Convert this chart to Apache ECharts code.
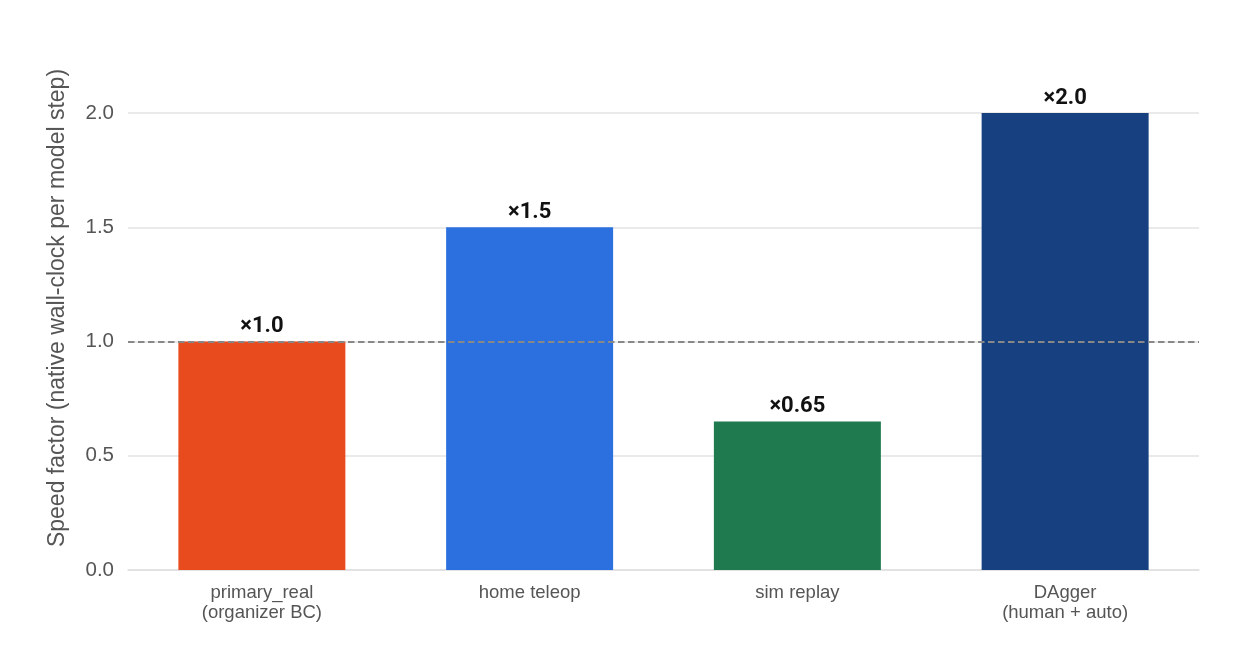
<!DOCTYPE html>
<html>
<head>
<meta charset="utf-8">
<script src="https://cdn.jsdelivr.net/npm/echarts@6/dist/echarts.min.js"></script>
<style>html,body{margin:0;padding:0;background:#fff}#c{width:1243px;height:666px}</style>
</head>
<body>
<div id="c"></div>
<script>
var categories = ['primary_real\n(organizer BC)', 'home teleop', 'sim replay', 'DAgger\n(human + auto)'];
var speedFactors = [1.0, 1.5, 0.65, 2.0];
var valueLabels = ['×1.0', '×1.5', '×0.65', '×2.0'];
var barColors = ['#E84C1E', '#2B70DE', '#1F7A4F', '#16407F'];
var yTicks = [0, 0.5, 1.0, 1.5, 2.0];
var referenceLine = 1.0;

var chart = echarts.init(document.getElementById('c'));
chart.setOption({
  backgroundColor: '#fff',
  animation: false,
  grid: { left: 128, right: 44, top: 113, bottom: 96 },
  xAxis: {
    type: 'category',
    data: categories,
    axisLine: { show: true, lineStyle: { color: '#e0e0e0', width: 1.5 } },
    axisTick: { show: false },
    axisLabel: { color: '#555', fontSize: 18.5, lineHeight: 20, margin: 13, fontFamily: 'Liberation Sans, Arial, sans-serif' }
  },
  yAxis: {
    type: 'value',
    min: yTicks[0],
    max: yTicks[yTicks.length - 1],
    interval: 0.5,
    name: 'Speed factor (native wall-clock per model step)',
    nameLocation: 'middle',
    nameGap: 59,
    nameTextStyle: { color: '#555', fontSize: 23, fontFamily: 'Liberation Sans, Arial, sans-serif', padding: [0, 0, 0, 67] },
    axisLine: { show: false },
    axisTick: { show: false },
    axisLabel: { color: '#555', fontSize: 20.5, margin: 14, fontFamily: 'Liberation Sans, Arial, sans-serif',
      formatter: function (v) { return v.toFixed(1); } },
    splitLine: { lineStyle: { color: '#e3e3e3', width: 1.5 } }
  },
  series: [{
    type: 'bar',
    barWidth: 167,
    data: speedFactors.map(function (v, i) {
      return { value: v, itemStyle: { color: barColors[i] } };
    }),
    label: {
      show: true,
      position: 'top',
      distance: 4,
      color: '#111',
      fontSize: 22,
      fontWeight: 'bold',
      fontFamily: 'Roboto, sans-serif',
      formatter: function (p) { return valueLabels[p.dataIndex]; }
    },
    markLine: {
      silent: true,
      symbol: 'none',
      label: { show: false },
      lineStyle: { color: '#888', type: [6.5, 3.5], width: 2 },
      data: [{ yAxis: referenceLine }],
      z: 10
    }
  }]
});
</script>
</body>
</html>
